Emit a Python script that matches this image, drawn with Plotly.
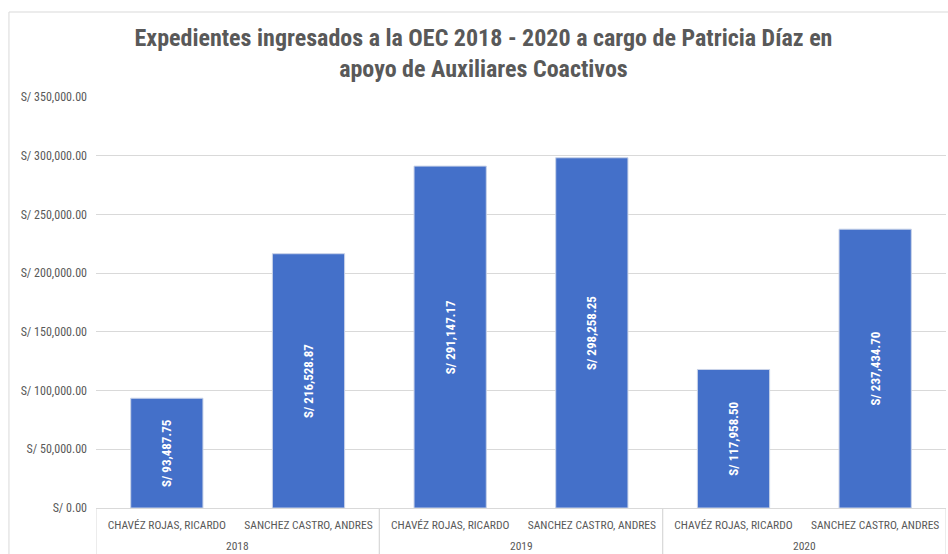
import plotly.graph_objects as go

years = ["2018", "2018", "2019", "2019", "2020", "2020"]
names = ["CHAVÉZ ROJAS, RICARDO", "SANCHEZ CASTRO, ANDRES"] * 3
values = [93487.75, 216528.87, 291147.17, 298258.25, 117958.50, 237434.70]
yticks = [0, 50000, 100000, 150000, 200000, 250000, 300000, 350000]

FONT = "Liberation Sans Narrow, Roboto Condensed, Arial Narrow, Roboto, sans-serif"
GRID = "#d9d9d9"
TXT = "#595959"

cats = [y + "|" + n for y, n in zip(years, names)]
labels = ["<b>S/ {:,.2f}</b>".format(v) for v in values]
ytext = ["S/ {:,.2f}".format(v) for v in yticks]

fig = go.Figure(go.Bar(
    x=cats, y=values,
    marker=dict(color="#4470c9", line=dict(color="#c9d3e8", width=1)),
    text=labels, textposition="inside", textangle=-90,
    insidetextanchor="middle",
    textfont=dict(color="white", size=13, family=FONT),
    width=0.51,
))

# year group labels and dividers (derived from the category data)
annotations = []
shapes = [dict(type="rect", xref="paper", yref="paper",
               x0=-0.1024, x1=1.2, y0=-0.5, y1=1.2068,
               line=dict(color=GRID, width=1), layer="below")]
groups = []
for i, y in enumerate(years):
    if not groups or groups[-1][0] != y:
        groups.append([y, i, i])
    else:
        groups[-1][2] = i
for y, a, b in groups:
    annotations.append(dict(x=(a + b) / 2, y=-0.0925, xref="x", yref="paper",
                            text=y, showarrow=False, yanchor="middle",
                            font=dict(family=FONT, size=11.5, color=TXT)))
    for xv in (a - 0.5, b + 0.5):
        shapes.append(dict(type="line", xref="x", yref="paper",
                           x0=xv, x1=xv, y0=0, y1=-0.2,
                           line=dict(color=GRID, width=1)))

fig.update_layout(
    width=948, height=554,
    margin=dict(l=96, r=2, t=97, b=46, autoexpand=False),
    paper_bgcolor="white", plot_bgcolor="white",
    title=dict(
        text="<b>Expedientes ingresados a la OEC 2018 - 2020 a cargo de Patricia Díaz en<br>apoyo de Auxiliares Coactivos</b>",
        x=0.51, xanchor="center", y=0.917, yanchor="middle",
        font=dict(family=FONT, size=24, color=TXT),
    ),
    showlegend=False,
    xaxis=dict(
        type="category", automargin=False,
        tickvals=cats, ticktext=names, range=[-0.5, len(cats) - 0.5],
        tickfont=dict(family=FONT, size=11.5, color=TXT),
        showline=True, linecolor=GRID, linewidth=1,
        ticks="", ticklabelstandoff=6, showgrid=False,
    ),
    yaxis=dict(
        range=[0, 350000], tickvals=yticks, ticktext=ytext, automargin=False,
        tickfont=dict(family=FONT, size=12, color=TXT),
        gridcolor=GRID, gridwidth=1,
        zeroline=False, showline=False, ticks="", ticklabelstandoff=8,
    ),
    annotations=annotations,
    shapes=shapes,
)

fig.write_html("out.html", config={"displayModeBar": False},
               post_script="document.body.style.margin='0';document.body.style.overflow='hidden';")
